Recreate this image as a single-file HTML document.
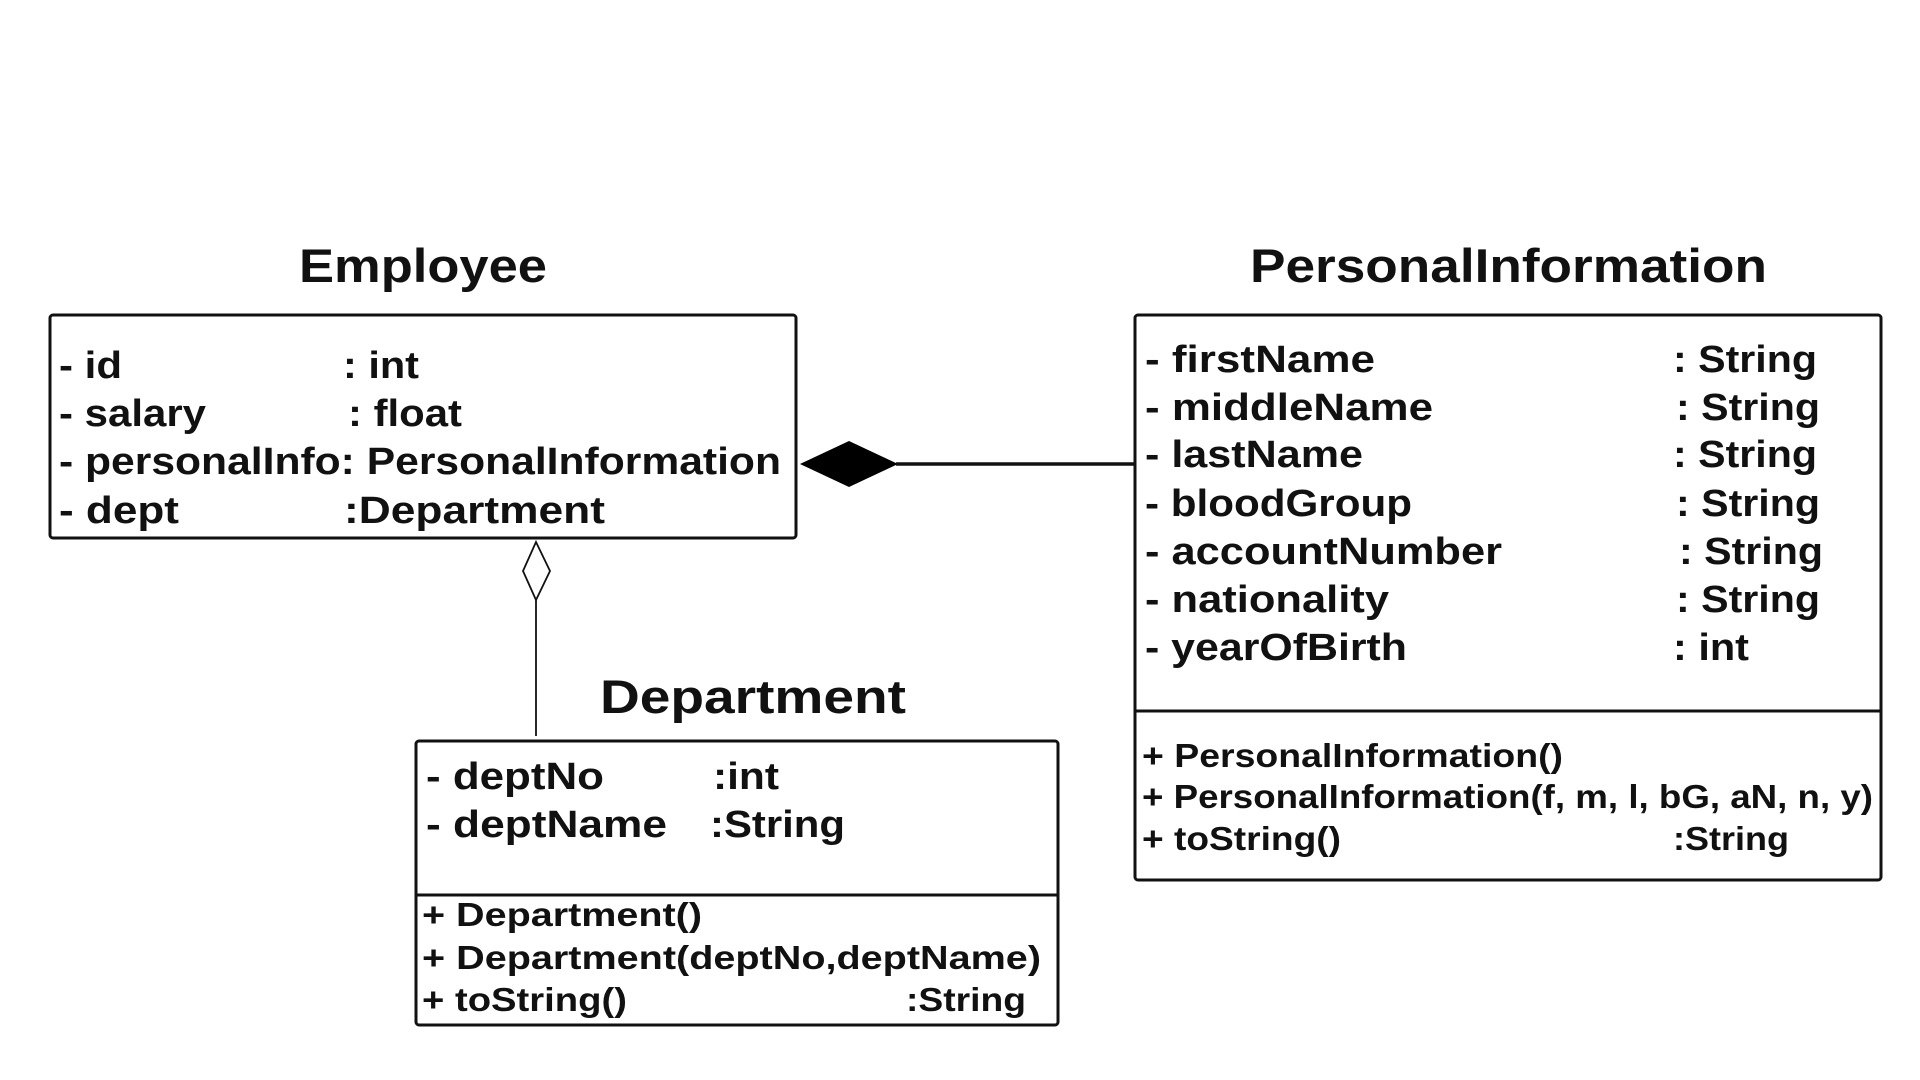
<!DOCTYPE html>
<html><head><meta charset="utf-8"><style>
html,body{margin:0;padding:0;background:#fff;width:1920px;height:1080px;overflow:hidden}
svg{display:block}
text{font-family:"Liberation Sans",sans-serif;font-weight:bold;fill:#111}
.t{font-size:47px}
.r{font-size:38px}
.m{font-size:33px}
</style></head><body>
<svg width="1920" height="1080" viewBox="0 0 1920 1080" xmlns="http://www.w3.org/2000/svg">
<!-- titles -->
<text class="t" x="299" y="282" textLength="248" lengthAdjust="spacingAndGlyphs">Employee</text>
<text class="t" x="1250" y="282" textLength="517" lengthAdjust="spacingAndGlyphs">PersonalInformation</text>
<text class="t" x="600" y="713" textLength="306" lengthAdjust="spacingAndGlyphs">Department</text>

<!-- Employee box -->
<rect x="50" y="315" width="746" height="223" rx="3" fill="none" stroke="#111" stroke-width="3"/>
<text class="r" x="59" y="378" textLength="63" lengthAdjust="spacingAndGlyphs">- id</text>
<text class="r" x="343" y="378" textLength="76" lengthAdjust="spacingAndGlyphs">: int</text>
<text class="r" x="59" y="426" textLength="147" lengthAdjust="spacingAndGlyphs">- salary</text>
<text class="r" x="348" y="426" textLength="114" lengthAdjust="spacingAndGlyphs">: float</text>
<text class="r" x="59" y="474" textLength="722" lengthAdjust="spacingAndGlyphs">- personalInfo: PersonalInformation</text>
<text class="r" x="59" y="523" textLength="120" lengthAdjust="spacingAndGlyphs">- dept</text>
<text class="r" x="344" y="523" textLength="261" lengthAdjust="spacingAndGlyphs">:Department</text>

<!-- composition -->
<polygon points="800,464 849,441 898,464 849,487" fill="#000"/>
<line x1="896" y1="464" x2="1136" y2="464" stroke="#111" stroke-width="3.5"/>

<!-- aggregation -->
<polygon points="536,542 550,571 536,600 523,571" fill="#fff" stroke="#111" stroke-width="1.8"/>
<line x1="536" y1="600" x2="536" y2="736" stroke="#111" stroke-width="1.8"/>

<!-- PersonalInformation box -->
<rect x="1135" y="315" width="746" height="565" rx="3" fill="none" stroke="#111" stroke-width="3"/>
<line x1="1135" y1="711" x2="1881" y2="711" stroke="#111" stroke-width="3"/>
<text class="r" x="1145" y="372" textLength="230" lengthAdjust="spacingAndGlyphs">- firstName</text>
<text class="r" x="1673" y="372" textLength="144" lengthAdjust="spacingAndGlyphs">: String</text>
<text class="r" x="1145" y="420" textLength="288" lengthAdjust="spacingAndGlyphs">- middleName</text>
<text class="r" x="1676" y="420" textLength="144" lengthAdjust="spacingAndGlyphs">: String</text>
<text class="r" x="1145" y="467" textLength="218" lengthAdjust="spacingAndGlyphs">- lastName</text>
<text class="r" x="1673" y="467" textLength="144" lengthAdjust="spacingAndGlyphs">: String</text>
<text class="r" x="1145" y="516" textLength="267" lengthAdjust="spacingAndGlyphs">- bloodGroup</text>
<text class="r" x="1676" y="516" textLength="144" lengthAdjust="spacingAndGlyphs">: String</text>
<text class="r" x="1145" y="564" textLength="357" lengthAdjust="spacingAndGlyphs">- accountNumber</text>
<text class="r" x="1679" y="564" textLength="144" lengthAdjust="spacingAndGlyphs">: String</text>
<text class="r" x="1145" y="612" textLength="244" lengthAdjust="spacingAndGlyphs">- nationality</text>
<text class="r" x="1676" y="612" textLength="144" lengthAdjust="spacingAndGlyphs">: String</text>
<text class="r" x="1145" y="660" textLength="262" lengthAdjust="spacingAndGlyphs">- yearOfBirth</text>
<text class="r" x="1673" y="660" textLength="76" lengthAdjust="spacingAndGlyphs">: int</text>
<text class="m" x="1142" y="767" textLength="421" lengthAdjust="spacingAndGlyphs">+ PersonalInformation()</text>
<text class="m" x="1142" y="808" textLength="731" lengthAdjust="spacingAndGlyphs">+ PersonalInformation(f, m, l, bG, aN, n, y)</text>
<text class="m" x="1142" y="850" textLength="199" lengthAdjust="spacingAndGlyphs">+ toString()</text>
<text class="m" x="1673" y="850" textLength="116" lengthAdjust="spacingAndGlyphs">:String</text>

<!-- Department box -->
<rect x="416" y="741" width="642" height="284" rx="3" fill="none" stroke="#111" stroke-width="3"/>
<line x1="416" y1="895" x2="1058" y2="895" stroke="#111" stroke-width="3"/>
<text class="r" x="426" y="789" textLength="178" lengthAdjust="spacingAndGlyphs">- deptNo</text>
<text class="r" x="713" y="789" textLength="66" lengthAdjust="spacingAndGlyphs">:int</text>
<text class="r" x="426" y="837" textLength="241" lengthAdjust="spacingAndGlyphs">- deptName</text>
<text class="r" x="710" y="837" textLength="135" lengthAdjust="spacingAndGlyphs">:String</text>
<text class="m" x="422" y="926" textLength="280" lengthAdjust="spacingAndGlyphs">+ Department()</text>
<text class="m" x="422" y="969" textLength="619" lengthAdjust="spacingAndGlyphs">+ Department(deptNo,deptName)</text>
<text class="m" x="422" y="1011" textLength="205" lengthAdjust="spacingAndGlyphs">+ toString()</text>
<text class="m" x="906" y="1011" textLength="120" lengthAdjust="spacingAndGlyphs">:String</text>
</svg>
</body></html>
